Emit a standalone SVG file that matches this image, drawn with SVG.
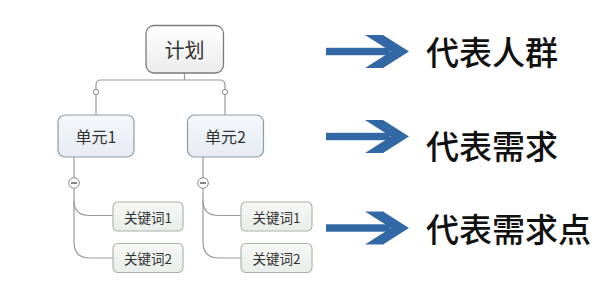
<svg xmlns="http://www.w3.org/2000/svg" width="613" height="296" viewBox="0 0 613 296">
<defs>
<linearGradient id="gRoot" x1="0" y1="0" x2="0" y2="1"><stop offset="0" stop-color="#ffffff"/><stop offset="1" stop-color="#ebebeb"/></linearGradient>
<linearGradient id="gUnit" x1="0" y1="0" x2="0" y2="1"><stop offset="0" stop-color="#f5f8fc"/><stop offset="1" stop-color="#e6ecf3"/></linearGradient>
<linearGradient id="gKey" x1="0" y1="0" x2="0" y2="1"><stop offset="0" stop-color="#f6f8f6"/><stop offset="1" stop-color="#e9eee9"/></linearGradient>
<g id="bigArrow"><rect x="326" y="-3.7" width="64" height="7.4" fill="#3268a4"/><polygon points="365,-16.5 383,-16.5 409,0 383,16.5 365,16.5 391,0" fill="#3268a4"/></g>
</defs>
<style>
.root{fill:url(#gRoot);stroke:#7b7b7b;stroke-width:1.3}
.unit{fill:url(#gUnit);stroke:#8c99a8;stroke-width:1.2}
.key{fill:url(#gKey);stroke:#a9b1a9;stroke-width:1.1}
.ln{fill:none;stroke:#9a9a9a;stroke-width:1.2}
.dot{fill:#fff;stroke:#8a8a8a;stroke-width:1}
.t{font-family:"Noto Sans CJK SC","Noto Sans",sans-serif;fill:#333;text-anchor:middle;dominant-baseline:central}
.big{font-family:"Noto Sans CJK SC","Noto Sans",sans-serif;fill:#111;font-size:33px;dominant-baseline:central;font-weight:500}
</style>
<rect width="613" height="296" fill="#fff"/>
<g id="connectors">
<path class="ln" d="M184.5,73 V80"/>
<path class="ln" d="M96,89.5 V85 Q96,80 101,80 H220 Q225,80 225,85 V89.5"/>
<path class="ln" d="M96,94.5 V115"/>
<path class="ln" d="M225,94.5 V115"/>
<path class="ln" d="M74,157 V177.5"/>
<path class="ln" d="M74,188.5 V201 Q74,215.5 90,215.5 H113"/>
<path class="ln" d="M74,201 V242 Q74,258 90,258 H113"/>
<path class="ln" d="M203,157 V177.5"/>
<path class="ln" d="M203,188.5 V201 Q203,215.5 219,215.5 H241"/>
<path class="ln" d="M203,201 V242 Q203,258 219,258 H241"/>
<circle class="dot" cx="96" cy="92" r="2.6"/>
<circle class="dot" cx="225" cy="92" r="2.6"/>
<circle class="dot" cx="74" cy="183" r="5.3"/>
<path d="M71,183 H77" stroke="#444" stroke-width="1.3"/>
<circle class="dot" cx="203" cy="183" r="5.3"/>
<path d="M200,183 H206" stroke="#444" stroke-width="1.3"/>
</g>
<g id="node-plan"><rect class="root" x="146" y="25.5" width="77.5" height="47.5" rx="8"/><text class="t" x="184.5" y="49.5" font-size="20">计划</text></g>
<g id="node-unit1"><rect class="unit" x="58" y="115" width="76" height="42" rx="7"/><text class="t" x="96" y="136" font-size="16">单元1</text></g>
<g id="node-unit2"><rect class="unit" x="187.5" y="115" width="76" height="42" rx="7"/><text class="t" x="225.5" y="136" font-size="16">单元2</text></g>
<g id="node-k11"><rect class="key" x="113" y="202" width="70" height="29" rx="5"/><text class="t" x="148" y="216.5" font-size="13.5">关键词1</text></g>
<g id="node-k12"><rect class="key" x="113" y="243.5" width="70" height="29" rx="5"/><text class="t" x="148" y="258" font-size="13.5">关键词2</text></g>
<g id="node-k21"><rect class="key" x="241" y="202" width="71" height="29" rx="5"/><text class="t" x="276.5" y="216.5" font-size="13.5">关键词1</text></g>
<g id="node-k22"><rect class="key" x="241" y="243.5" width="71" height="29" rx="5"/><text class="t" x="276.5" y="258" font-size="13.5">关键词2</text></g>
<g id="legend">
<use href="#bigArrow" y="51.5"/>
<use href="#bigArrow" y="136.5"/>
<use href="#bigArrow" y="228"/>
<text class="big" x="426" y="50.5">代表人群</text>
<text class="big" x="426" y="144.5">代表需求</text>
<text class="big" x="426" y="227.5">代表需求点</text>
</g>
</svg>
